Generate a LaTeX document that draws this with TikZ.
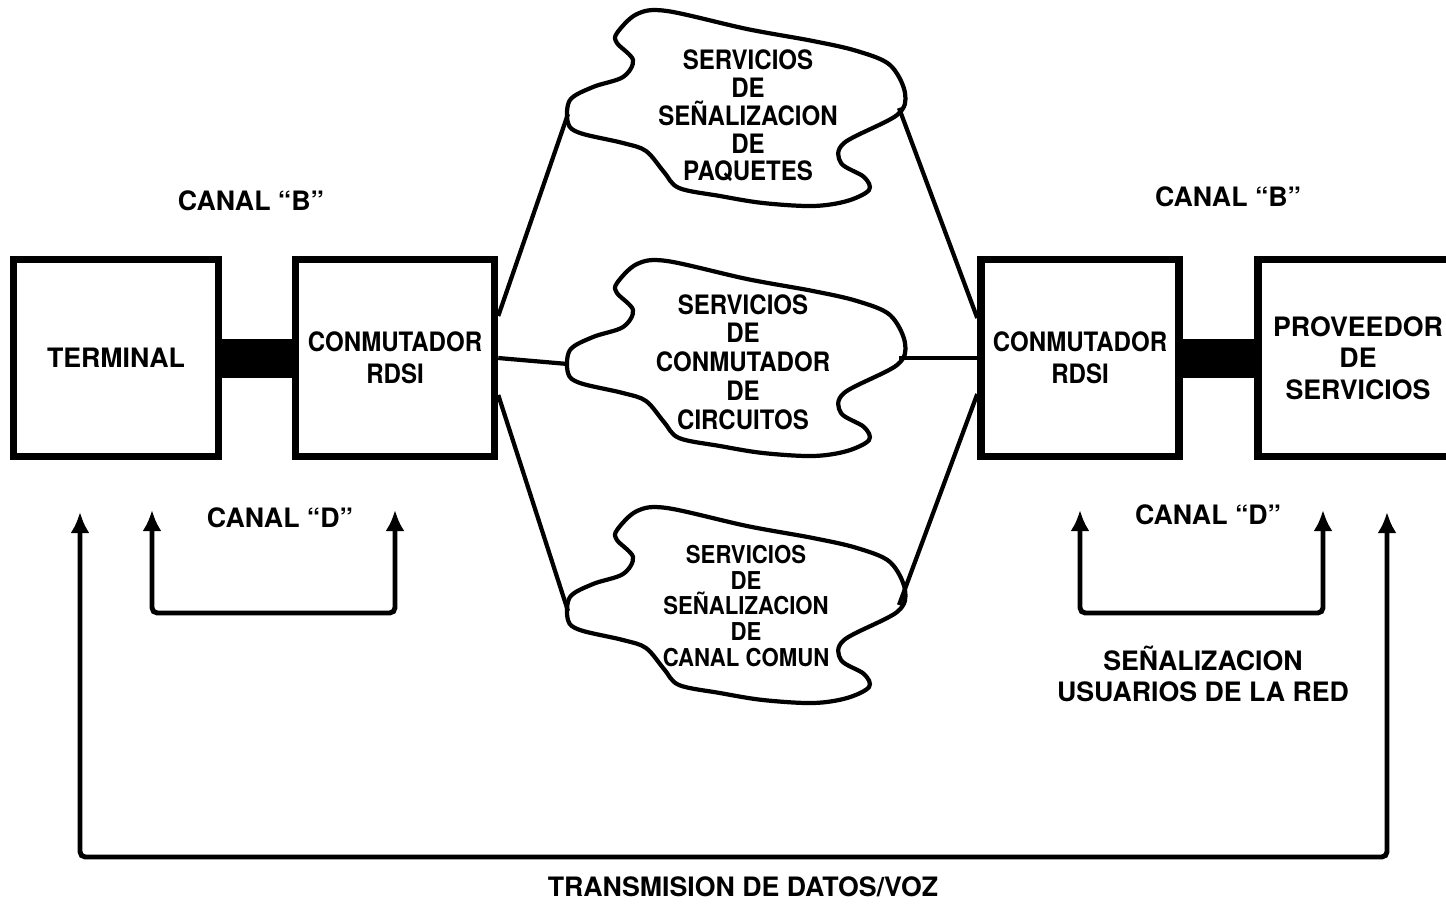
\documentclass[tikz,border=0pt]{standalone}
\usepackage{fontspec}
\setmainfont{TeX Gyre Heros}
\newfontfamily\estrecha[FakeStretch=0.9]{TeX Gyre Heros}
\usetikzlibrary{arrows.meta,positioning}

\tikzset{
  caja/.style={draw, line width=2.1pt, minimum width=2cm, minimum height=1.97cm, inner sep=0pt, align=center, font=\bfseries\fontsize{7.6}{9}\selectfont},
  texto/.style={align=center, font=\bfseries\fontsize{7.6}{9}\selectfont},
  nubetexto/.style={align=center, font=\estrecha\bfseries\fontsize{7.6}{7.9}\selectfont},
  linea/.style={line width=1.2pt},
  barra/.style={line width=0.39cm},
  flecha/.style={line width=1.4pt, rounded corners=1.5pt, >={Latex[length=2.1mm,width=1.9mm]}, <->},
  nube/.pic={
    \draw[line width=1.2pt] plot[smooth cycle, tension=0.55] coordinates {
      (-119,-75) (-99,-94) (-69,-97) (11,-79) (77,-67) (121,-57) (154,-43)
      (169,-15) (161,7) (108,35) (105,55) (128,69) (133,82) (111,93)
      (77,98) (27,95) (-16,88) (-57,80) (-72,64) (-90,43) (-113,35)
      (-156,25) (-168,15) (-166,-8) (-143,-21) (-113,-31) (-103,-48) (-119,-65)};
    \coordinate (-w) at (-168,6);
    \coordinate (-e) at (163,0);
  }
}

\begin{document}
\begin{tikzpicture}[x=0.01cm, y=-0.01cm]
     \useasboundingbox (0,0) rectangle (1446,905);

     % Boxes
     \node[caja, minimum width=2.05cm] (terminal) at (116,358) {TERMINAL};
     \node[caja, minimum width=1.99cm, font=\estrecha\bfseries\fontsize{7.6}{9}\selectfont] (conml) at (395,358) {CONMUTADOR\\RDSI};
     \node[caja, minimum width=1.98cm, font=\estrecha\bfseries\fontsize{7.6}{9}\selectfont] (conmr) at (1080,358) {CONMUTADOR\\RDSI};
     \node[caja] (prov) at (1358,358) {PROVEEDOR\\DE\\SERVICIOS};

     % "B" channel bars
     \draw[barra] (terminal) -- (conml);
     \draw[barra] (conmr) -- (prov);
     \node[texto] (canalbl) at (251,201) {CANAL ``B''};
     \node[texto] (canalbr) at (1228,197) {CANAL ``B''};

     % Clouds
     \pic (paq) at (736,108) {nube};
     \pic (cir) at (736,358) {nube};
     \pic (ccs) at (736,605) {nube};
     \node[nubetexto] (paqt) at (748,116) {SERVICIOS\\DE\\SEÑALIZACION\\DE\\PAQUETES};
     \node[nubetexto, font=\estrecha\bfseries\fontsize{7.6}{8.2}\selectfont] (cirt) at (743,362) {SERVICIOS\\DE\\CONMUTADOR\\DE\\CIRCUITOS};
     \node[nubetexto, font=\estrecha\bfseries\fontsize{7}{7.3}\selectfont] (ccst) at (746,606) {SERVICIOS\\DE\\SEÑALIZACION\\DE\\CANAL COMUN};

     % Links to the clouds
     \draw[linea] ([yshift=4.2mm]conml.east) -- (paq-w);
     \draw[linea] (conml.east) -- (cir-w);
     \draw[linea] ([yshift=-3.7mm]conml.east) -- (ccs-w);
     \draw[linea] (paq-e) -- ([yshift=4mm]conmr.west);
     \draw[linea] (cir-e) -- (conmr.west);
     \draw[linea] (ccs-e) -- ([yshift=-3.6mm]conmr.west);

     % "D" channel
     \coordinate (dl1) at (152,510);
     \coordinate (dl2) at (395,510);
     \coordinate (dr1) at (1080,510);
     \coordinate (dr2) at (1323,510);
     \draw[flecha] (dl1) -- ++(0,103) -| (dl2);
     \draw[flecha] (dr1) -- ++(0,103) -| (dr2);
     \node[texto] (canaldl) at (280,518) {CANAL ``D''};
     \node[texto] (canaldr) at (1208,515) {CANAL ``D''};
     \node[texto] (senal) at (1203,674) {SEÑALIZACION\\USUARIOS DE LA RED};

     % Data / voice
     \coordinate (tl) at (80,512);
     \coordinate (tr) at (1387,512);
     \draw[flecha] (tl) -- ++(0,345) -| (tr);
     \node[texto] (trans) at (743,887) {TRANSMISION DE DATOS/VOZ};

\end{tikzpicture}
\end{document}
